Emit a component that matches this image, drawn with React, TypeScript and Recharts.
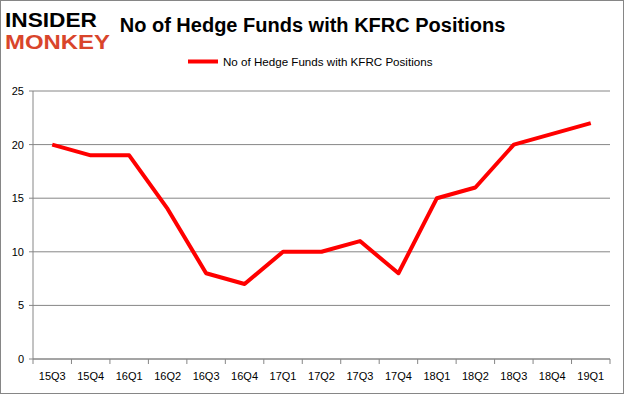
import React from "react";
import { LineChart, Line, XAxis, YAxis, CartesianGrid } from "recharts";

const quarters = ["15Q3", "15Q4", "16Q1", "16Q2", "16Q3", "16Q4", "17Q1", "17Q2", "17Q3", "17Q4", "18Q1", "18Q2", "18Q3", "18Q4", "19Q1"];
const funds = [20, 19, 19, 14, 8, 7, 10, 10, 11, 8, 15, 16, 20, 21, 22];
const yTicks = [0, 5, 10, 15, 20, 25];
const seriesName = "No of Hedge Funds with KFRC Positions";
const titleText = "No of Hedge Funds with KFRC Positions";

const data = quarters.map((q, i) => ({ q, v: funds[i] }));

const W = 625;
const H = 395;
const M = { top: 91, right: 15, bottom: 6, left: 0 };
const Y_W = 33;
const PLOT_W = W - M.left - M.right - Y_W;
const BAND = PLOT_W / quarters.length;
const GRAY = "#868686";
const FONT = "'Liberation Sans', Arial, sans-serif";

const XTick = (props: any) => {
  const { x, y, payload, index } = props;
  const last = index === quarters.length - 1;
  return (
    <g>
      <line x1={x - BAND / 2} x2={x - BAND / 2} y1={y} y2={y + 5} stroke={GRAY} />
      {last && <line x1={x + BAND / 2} x2={x + BAND / 2} y1={y} y2={y + 5} stroke={GRAY} />}
      <text x={x} y={y + 21} textAnchor="middle" fontSize={11} fontFamily={FONT} fill="#000">
        {payload.value}
      </text>
    </g>
  );
};

export default function App() {
  return (
    <div style={{ position: "relative", width: W, height: H, background: "#fff" }}>
      <style>{"body{margin:0}"}</style>
      <LineChart width={W} height={H} data={data} margin={M}>
        <CartesianGrid vertical={false} stroke={GRAY} />
        <XAxis
          dataKey="q"
          interval={0}
          padding={{ left: BAND / 2, right: BAND / 2 }}
          axisLine={{ stroke: GRAY }}
          tickLine={false}
          tickSize={0}
          tickMargin={0}
          height={30}
          tick={<XTick />}
        />
        <YAxis
          width={Y_W}
          domain={[0, 25]}
          ticks={yTicks}
          interval={0}
          axisLine={{ stroke: GRAY }}
          tickLine={{ stroke: GRAY }}
          tickSize={4}
          tickMargin={5}
          tick={{ fontSize: 11, fontFamily: FONT, fill: "#000" }}
        />
        <Line
          type="linear"
          dataKey="v"
          name={seriesName}
          stroke="#ff0000"
          strokeWidth={4}
          dot={false}
          activeDot={false}
          isAnimationActive={false}
          strokeLinejoin="round"
        />
      </LineChart>
      <svg width={W} height={75} style={{ position: "absolute", left: 0, top: 0 }}>
        <text x={5} y={26.5} fontSize={21} fontWeight="bold" fontFamily={FONT} fill="#000" textLength={92} lengthAdjust="spacingAndGlyphs">
          INSIDER
        </text>
        <text x={5} y={49} fontSize={21} fontWeight="bold" fontFamily={FONT} fill="#d9452b" textLength={105} lengthAdjust="spacingAndGlyphs">
          MONKEY
        </text>
        <text x={312.5} y={32} fontSize={20} fontWeight="bold" fontFamily={FONT} fill="#000" textAnchor="middle">
          {titleText}
        </text>
        <line x1={188} x2={218} y1={61.5} y2={61.5} stroke="#ff0000" strokeWidth={4} />
        <text x={223} y={66} fontSize={11.6} fontFamily={FONT} fill="#000">
          {seriesName}
        </text>
      </svg>
      <div
        style={{
          position: "absolute",
          left: 0,
          top: 0,
          width: 624,
          height: 394,
          boxSizing: "border-box",
          border: `1px solid ${GRAY}`,
          pointerEvents: "none",
        }}
      />
    </div>
  );
}
